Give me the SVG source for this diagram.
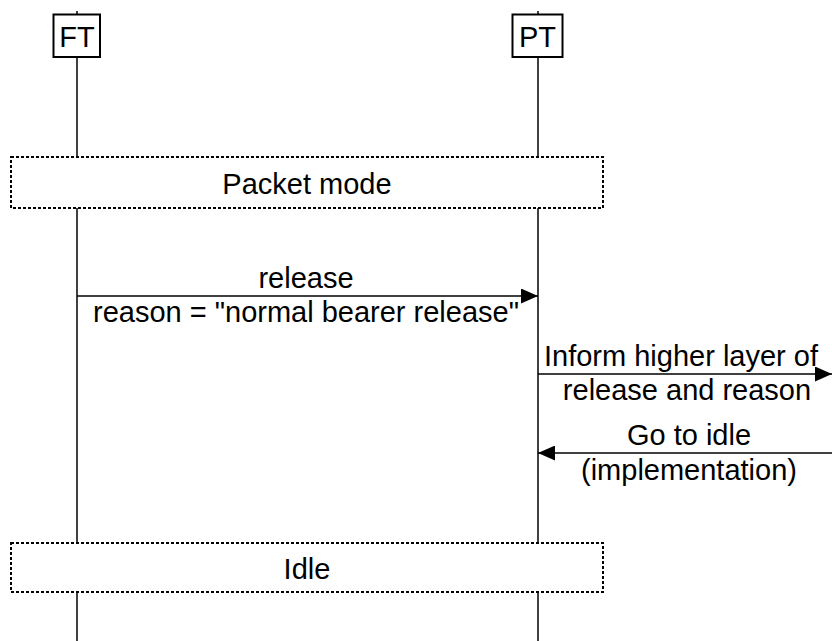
<svg xmlns="http://www.w3.org/2000/svg" width="832" height="641" viewBox="0 0 832 641">
<style>
  text { font-family: "Liberation Sans", Arial, sans-serif; font-size: 29px; fill: #000; text-anchor: middle; }
  .life { stroke: #000; stroke-width: 1.5; fill: none; }
  .ent { fill: #fff; stroke: #000; stroke-width: 2; }
  .state { fill: #fff; stroke: #000; stroke-width: 2; stroke-dasharray: 3 2; }
  .msg { stroke: #000; stroke-width: 1.5; fill: none; }
</style>
<defs>
  <marker id="ah" viewBox="0 0 17 15" refX="17" refY="7.5" markerWidth="17" markerHeight="15" markerUnits="userSpaceOnUse" orient="auto">
    <path d="M0,0 L17,7.5 L0,15 Z" fill="#000"/>
  </marker>
</defs>
<rect width="832" height="641" fill="#fff"/>
<g id="lifelines">
  <line class="life" x1="77" y1="11" x2="77" y2="641"/>
  <line class="life" x1="538" y1="11" x2="538" y2="641"/>
</g>
<g id="FT">
  <rect class="ent" x="53.5" y="14.5" width="46.5" height="42.5"/>
  <text x="77" y="47">FT</text>
</g>
<g id="PT">
  <rect class="ent" x="512.5" y="14.5" width="50" height="42.5"/>
  <text x="537.5" y="47">PT</text>
</g>
<g id="packet-mode">
  <rect class="state" x="11" y="157" width="592" height="51"/>
  <text x="307" y="194">Packet mode</text>
</g>
<g id="idle">
  <rect class="state" x="11" y="543" width="592" height="49"/>
  <text x="307" y="579">Idle</text>
</g>
<g id="connectors">
  <line class="msg" x1="77" y1="296" x2="538" y2="296" marker-end="url(#ah)"/>
  <line class="msg" x1="538" y1="374" x2="832" y2="374" marker-end="url(#ah)"/>
  <line class="msg" x1="832" y1="453" x2="538" y2="453" marker-end="url(#ah)"/>
</g>
<g id="labels">
  <text x="306" y="288">release</text>
  <text x="306" y="322">reason = "normal bearer release"</text>
  <text x="681" y="366">Inform higher layer of</text>
  <text x="687" y="400">release and reason</text>
  <text x="689" y="445">Go to idle</text>
  <text x="689" y="480">(implementation)</text>
</g>
</svg>
